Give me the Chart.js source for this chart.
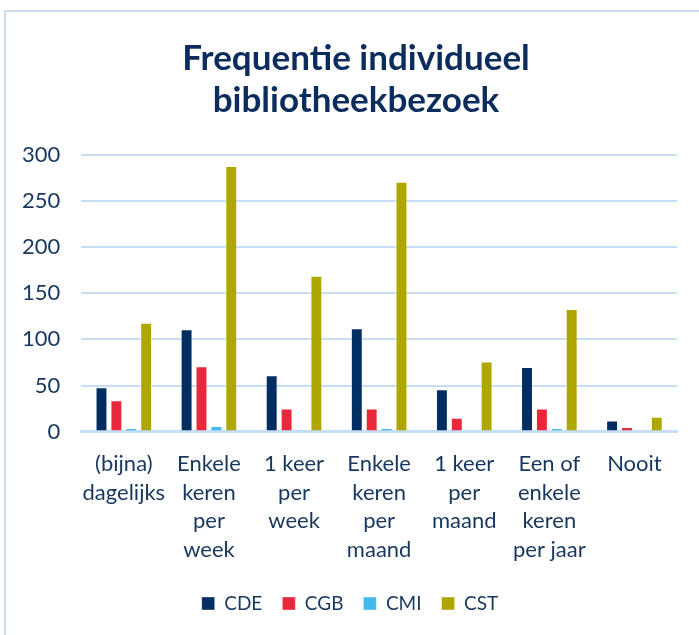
<!DOCTYPE html>
<html>
<head>
<meta charset="utf-8">
<script src="https://cdn.jsdelivr.net/npm/chart.js@4"></script>
<style>
  body{margin:0;background:#fff;}
  #frame{position:absolute;left:4px;top:10px;width:720px;height:650px;border-left:2px solid #C5DDF5;border-top:2px solid #C5DDF5;}
  #wrap{position:absolute;left:0;top:0;width:699px;height:635px;}
</style>
</head>
<body>
<div id="frame"></div>
<div id="wrap"><canvas id="chart" width="699" height="635"></canvas></div>
<script>
const categories=[['(bijna)','dagelijks'],['Enkele','keren','per','week'],['1 keer','per','week'],['Enkele','keren','per','maand'],['1 keer','per','maand'],['Een of','enkele','keren','per jaar'],['Nooit']];
const cde=[48,111,61,112,46,70,12];
const cgb=[34,71,25,25,15,25,5];
const cmi=[4,6,2,4,0,4,0];
const cst=[118,288,169,271,76,133,16];
const yTicks=[0,50,100,150,200,250,300];

const txt='#17375E';
const font="Lato, 'Open Sans', sans-serif";

function ds(label,data,color){
  return {label:label,data:data,backgroundColor:color,borderColor:'rgba(255,255,255,0.5)',borderWidth:{top:1,left:1,right:1,bottom:0},
    barPercentage:0.8,categoryPercentage:0.7};
}

// the original centres title and legend a bit right of the canvas middle
const shiftBlocks={
  id:'shiftBlocks',
  afterLayout(chart){
    chart.titleBlock.left+=17; chart.titleBlock.right+=17;
  },
  afterUpdate(chart){
    const lg=chart.legend;
    lg.left+=11; lg.right+=11;
    (lg.legendHitBoxes||[]).forEach(b=>{b.left+=11;});
  }
};

new Chart(document.getElementById('chart'),{
  type:'bar',
  data:{
    labels:categories,
    datasets:[ds('CDE',cde,'#002D62'),ds('CGB',cgb,'#E8293B'),ds('CMI',cmi,'#45B8EC'),ds('CST',cst,'#AFA600')]
  },
  options:{
    responsive:false,
    animation:false,
    devicePixelRatio:1,
    layout:{padding:{left:1,right:22,top:38,bottom:12}},
    plugins:{
      title:{display:true,text:['Frequentie individueel','bibliotheekbezoek'],color:'#0B2C5C',
        font:{family:font,size:35,weight:'bold'},lineHeight:1.22,padding:{top:0,bottom:33}},
      legend:{position:'bottom',labels:{color:txt,font:{family:font,size:19},boxWidth:13,boxHeight:13,padding:20}},
      tooltip:{enabled:false}
    },
    scales:{
      x:{grid:{display:false},border:{color:'#C5DDF5',width:3},
        afterFit:function(s){s.paddingLeft=0;s.paddingRight=0;},
        ticks:{color:txt,font:{family:font,size:22,lineHeight:1.3},maxRotation:0,autoSkip:false,padding:10}},
      y:{min:0,max:300,afterBuildTicks:function(ax){ax.ticks=yTicks.map(v=>({value:v}));},
        grid:{color:'#C5DDF5',lineWidth:2,drawTicks:false},border:{display:false},
        ticks:{color:txt,font:{family:font,size:22},padding:21}}
    }
  },
  plugins:[shiftBlocks]
});
</script>
</body>
</html>
